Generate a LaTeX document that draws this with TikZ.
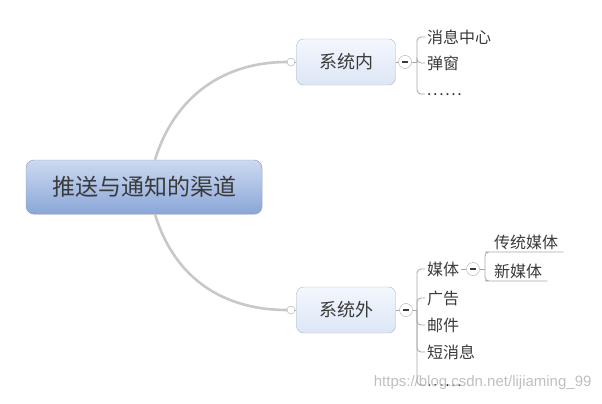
\documentclass[tikz,border=0pt]{standalone}
\usepackage{fontspec}
\setmainfont{Noto Sans CJK SC}
\newfontfamily\markfont{Liberation Sans}
\usepackage{tikz}
\usetikzlibrary{arrows.meta,positioning,shadows}
\definecolor{rttop}{HTML}{CCDAF1}
\definecolor{rtbot}{HTML}{8AA6D8}
\definecolor{rtdraw}{HTML}{8A9DBF}
\definecolor{tptop}{HTML}{F4F7FD}
\definecolor{tpbot}{HTML}{DCE6F6}
\definecolor{tpdraw}{HTML}{A8B6CC}
\definecolor{edgegray}{HTML}{C8C8C8}
\definecolor{brgray}{HTML}{A6A6A6}
\definecolor{txtgray}{HTML}{3A3A3A}
\tikzset{
  rootnode/.style={draw=rtdraw,top color=rttop,bottom color=rtbot,rounded corners=8pt,
    minimum width=236pt,minimum height=54pt,text=txtgray,font=\fontsize{23}{26}\selectfont,
    drop shadow={shadow xshift=0.6pt,shadow yshift=-0.8pt,opacity=0.25}},
  topicnode/.style={draw=tpdraw,top color=tptop,bottom color=tpbot,rounded corners=7pt,
    minimum width=99pt,minimum height=46pt,text=txtgray,font=\fontsize{18}{21}\selectfont},
  leafnode/.style={inner sep=2pt,text=txtgray,font=\fontsize{16}{19}\selectfont},
  morenode/.style={leafnode,font=\fontsize{16}{19}\selectfont\addfontfeature{LetterSpace=10}},
  pinnode/.style={circle,draw=brgray,fill=white,minimum size=8pt,inner sep=0pt},
  foldnode/.style={circle,draw=brgray,fill=white,minimum size=13pt,inner sep=0pt,
    path picture={\draw[line width=1.6pt,txtgray]
      ([xshift=-3pt]path picture bounding box.center) --
      ([xshift=3pt]path picture bounding box.center);}},
  rootedge/.style={edgegray,line width=2.6pt},
  brline/.style={brgray,line width=0.8pt,rounded corners=4pt},
}

\begin{document}
\begin{tikzpicture}[x=1pt,y=-1pt]
  \useasboundingbox (0,0) rectangle (602,404);
  \node[rootnode] (nRoot) at (144,187) {推送与通知的渠道};
  \node[topicnode] (nIn) at (346,62) {系统内};
  \node[topicnode] (nOut) at (346,310) {系统外};
  \node[pinnode] (cIn) at (291,62) {};
  \node[pinnode] (cOut) at (291,310) {};
  \node[foldnode] (tIn) at (405,62) {};
  \node[foldnode] (tOut) at (406,310) {};
  \coordinate (jIn) at (417,62);
  \coordinate (jOut) at (417,310);
  % children of the inner topic
  \node[leafnode,anchor=west] (nMsg) at (425,37) {消息中心};
  \node[leafnode,anchor=west] (nPop) at (425,63) {弹窗};
  \node[morenode,anchor=base west] (nInMore) at (425,95) {......};
  % children of the outer topic
  \node[leafnode,anchor=west] (nMedia) at (425,269) {媒体};
  \node[leafnode,anchor=west] (nAd) at (425,298) {广告};
  \node[leafnode,anchor=west] (nMail) at (425,325) {邮件};
  \node[leafnode,anchor=west] (nSms) at (425,352) {短消息};
  \node[morenode,anchor=base west] (nOutMore) at (425,386) {......};
  \node[foldnode] (tMedia) at (473,269) {};
  \coordinate (jMedia) at (485,269);
  \node[leafnode,anchor=south west,inner xsep=5pt] (nTrad) at (489,252) {传统媒体};
  \node[leafnode,anchor=south west,inner xsep=5pt] (nNew) at (489,281) {新媒体};
  \node[anchor=east,text=black!25,font=\markfont\fontsize{15}{17}\selectfont] (nMark) at (595,383) {https://blog.csdn.net/lijiaming\_99};
  % root branches
  \draw[rootedge] ([xshift=11pt]nRoot.north) .. controls (175,95) and (225,62) .. (cIn.west);
  \draw[rootedge] ([xshift=11pt]nRoot.south) .. controls (175,280) and (225,310) .. (cOut.west);
  \draw[brgray,line width=0.8pt] (cIn) -- (nIn);
  \draw[brgray,line width=0.8pt] (cOut) -- (nOut);
  \draw[brgray,line width=0.8pt] (nIn) -- (tIn);
  \draw[brgray,line width=0.8pt] (nOut) -- (tOut);
  \draw[brgray,line width=0.8pt] (nMedia) -- (tMedia);
  % brackets
  \draw[brline] (tIn) -- (jIn);
  \draw[brline] (jIn) |- (nMsg.west);
  \draw[brline] (jIn) |- (nPop.west);
  \draw[brline] (jIn) |- (nInMore.west);
  \draw[brline] (tOut) -- (jOut);
  \draw[brline] (jOut) |- (nMedia.west);
  \draw[brline] (jOut) |- (nAd.west);
  \draw[brline] (jOut) |- (nMail.west);
  \draw[brline] (jOut) |- (nSms.west);
  \draw[brline] (jOut) |- (nOutMore.west);
  \draw[brline] (tMedia) -- (jMedia);
  \draw[brline] (jMedia) |- (nTrad.south west) -- (nTrad.south east);
  \draw[brline] (jMedia) |- (nNew.south west) -- (nNew.south east);
\end{tikzpicture}
\end{document}
